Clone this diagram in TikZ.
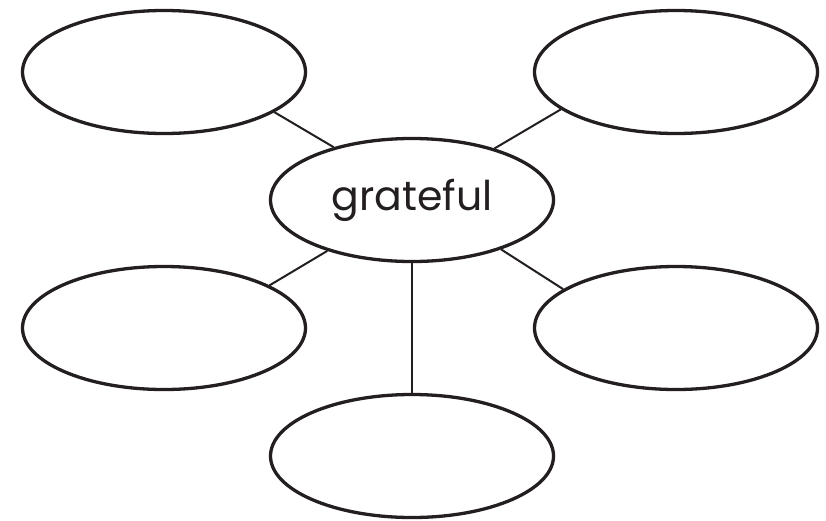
\documentclass[tikz,border=0pt]{standalone}
\usepackage{xcolor}
\usepackage{fontspec}
\setmainfont{Poppins}
\usepackage{tikz}
\usetikzlibrary{shapes,positioning}

\definecolor{inkblack}{HTML}{231F20}

\begin{document}
\begin{tikzpicture}[x=1pt,y=-1pt,
  bubble/.style={ellipse, draw=inkblack, line width=3.3pt, minimum width=283pt, minimum height=123pt, inner sep=0pt},
  link/.style={draw=inkblack, line width=2pt}]
\useasboundingbox (0,0) rectangle (826,520);

% Centre word
\node[bubble, font=\fontsize{41}{48}\selectfont, text=inkblack] (grateful) at (412,200) {grateful};

% Outer bubbles
\node[bubble] (tl) at (164,72) {};
\node[bubble] (tr) at (676,72) {};
\node[bubble] (ml) at (164,328) {};
\node[bubble] (mr) at (676,328) {};
\node[bubble] (bot) at (412,456) {};

% Spokes
\draw[link] (tl.-20) -- (grateful.146);
\draw[link] (tr.198) -- (grateful.32);
\draw[link] (ml.22) -- (grateful.211);
\draw[link] (mr.161) -- (grateful.-29);
\draw[link] (grateful.south) -- (bot.north);
\end{tikzpicture}
\end{document}
